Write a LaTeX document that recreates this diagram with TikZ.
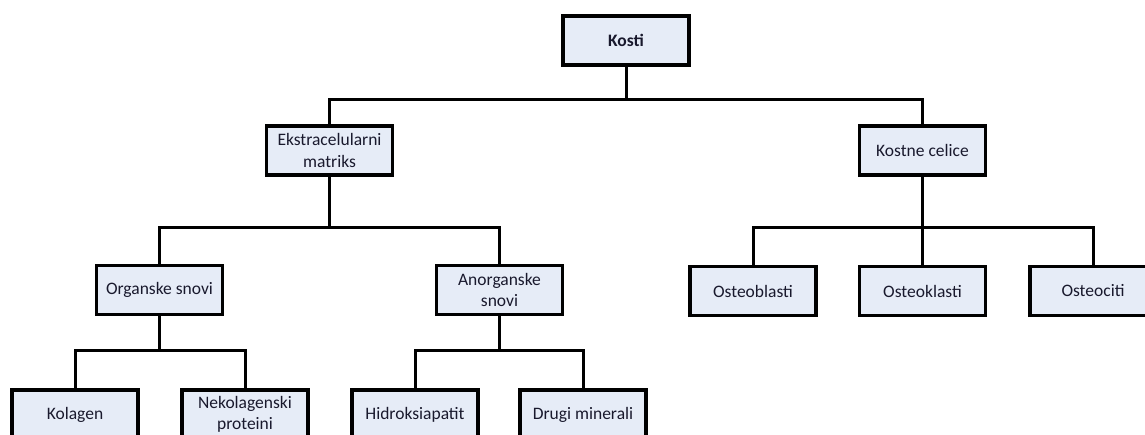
\documentclass[tikz,border=0pt]{standalone}
\usepackage{fontspec}
\setmainfont{Carlito}
\definecolor{boxfill}{RGB}{230,236,247}
\definecolor{boxtext}{RGB}{25,25,45}
\begin{document}
\begin{tikzpicture}[x=1pt,y=-1pt,
  cbox/.style={draw=black, line width=3.6pt, fill=boxfill, text=boxtext,
    minimum width=126pt, minimum height=49pt, inner sep=2pt, align=center,
    font=\fontsize{17.5}{21.5}\selectfont},
  conn/.style={draw=black, line width=3pt, line join=miter}]
\useasboundingbox (0,0) rectangle (1145,434);
\clip (0,0) rectangle (1145,434);
% nodes
\node[cbox, font=\fontsize{17.5}{21.5}\selectfont\bfseries] (kosti) at (626,40.5) {Kosti};
\node[cbox] (ekm) at (329.5,150.5) {Ekstracelularni\\matriks};
\node[cbox] (kc) at (922.5,150.5) {Kostne celice};
\node[cbox] (org) at (159.5,290) {Organske snovi};
\node[cbox] (anorg) at (499.5,290) {Anorganske\\snovi};
\node[cbox] (ob) at (753,291) {Osteoblasti};
\node[cbox] (ok) at (922.5,291) {Osteoklasti};
\node[cbox] (oc) at (1093,291) {Osteociti};
\node[cbox] (kol) at (75,414.5) {Kolagen};
\node[cbox] (nek) at (245,414.5) {Nekolagenski\\proteini};
\node[cbox] (hid) at (415,414.5) {Hidroksiapatit};
\node[cbox] (drm) at (583,414.5) {Drugi minerali};
% bar coordinates
\coordinate (b1) at (626,99);
\coordinate (b2) at (329.5,227);
\coordinate (b3) at (922.5,227);
\coordinate (b4) at (159.5,350);
\coordinate (b5) at (499.5,350);
% connectors
\draw[conn] (kosti.south) -- (b1);
\draw[conn] (ekm.north) |- (b1) -| (kc.north);
\draw[conn] (ekm.south) -- (b2);
\draw[conn] (org.north) |- (b2) -| (anorg.north);
\draw[conn] (kc.south) -- (b3);
\draw[conn] (ob.north) |- (b3) -| (oc.north);
\draw[conn] (b3) -- (ok.north);
\draw[conn] (org.south) -- (b4);
\draw[conn] (kol.north) |- (b4) -| (nek.north);
\draw[conn] (anorg.south) -- (b5);
\draw[conn] (hid.north) |- (b5) -| (drm.north);
\end{tikzpicture}
\end{document}
